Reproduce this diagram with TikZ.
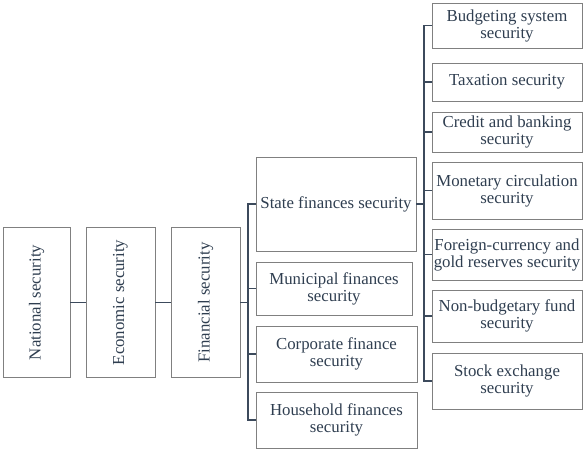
\documentclass[tikz,border=0pt]{standalone}
\usepackage{fontspec}
\setmainfont{Liberation Serif}
\usepackage{tikz}
\usetikzlibrary{positioning, calc}

\definecolor{boxgray}{RGB}{128,128,128}
\definecolor{linkslate}{RGB}{60,74,92}
\definecolor{textslate}{RGB}{47,62,80}

\begin{document}
\begin{tikzpicture}[
    x=1pt, y=-1pt,
    every node/.style={font=\fontsize{16.8}{17}\selectfont, text=textslate},
    level/.style={rectangle, draw=boxgray, line width=0.8pt, rotate=90, minimum width=150pt, inner sep=1pt},
    sub/.style={rectangle, draw=boxgray, line width=0.8pt, align=center, inner sep=1pt},
    item/.style={rectangle, draw=boxgray, line width=0.8pt, align=center, minimum width=150pt, inner sep=1pt},
    link/.style={line width=1.9pt, draw=linkslate}
]
\useasboundingbox (0,0) rectangle (587,451);

% Levels of security
\node[level, minimum height=67pt] (nat) at (36.5,302.5) {National security};
\node[level, minimum height=69pt] (eco) at (120.5,302.5) {Economic security};
\node[level, minimum height=69pt] (fin) at (205.5,302.5) {Financial security};

% Financial security components
\node[sub, minimum width=160pt, minimum height=94pt] (state) at (336,204) {State finances security};
\node[sub, minimum width=156pt, minimum height=53pt] (muni) at (334,288.5) {Municipal finances\\security};
\node[sub, minimum width=161pt, minimum height=56pt] (corp) at (336.5,354) {Corporate finance\\security};
\node[sub, minimum width=161pt, minimum height=56pt] (house) at (336.5,420) {Household finances\\security};

% State finances components
\node[item, minimum height=45pt] (budg) at (507,25.5) {Budgeting system\\security};
\node[item, minimum height=38pt] (tax) at (507,82) {Taxation security};
\node[item, minimum height=40pt] (cred) at (507,132) {Credit and banking\\security};
\node[item, minimum height=57pt] (mon) at (507,190.5) {Monetary circulation\\security};
\node[item, minimum height=51pt] (forex) at (507,254.5) {Foreign-currency and\\gold reserves security};
\node[item, minimum height=52pt] (nonb) at (507,316) {Non-budgetary fund\\security};
\node[item, minimum height=56pt] (stock) at (507,381) {Stock exchange\\security};

% Connectors
\draw[link] (nat.south) -- (eco.north);
\draw[link] (eco.south) -- (fin.north);
\coordinate (busA) at (248,302.5);
\draw[link] (fin.south) -- (busA);
\foreach \n in {state, muni, corp, house}
  \draw[link] (busA) |- (\n.west);

\coordinate (busB) at (424,204);
\draw[link] (state.east) -- (busB);
\foreach \n in {budg, tax, cred, mon, forex, nonb, stock}
  \draw[link] (busB) |- (\n.west);

\end{tikzpicture}
\end{document}
